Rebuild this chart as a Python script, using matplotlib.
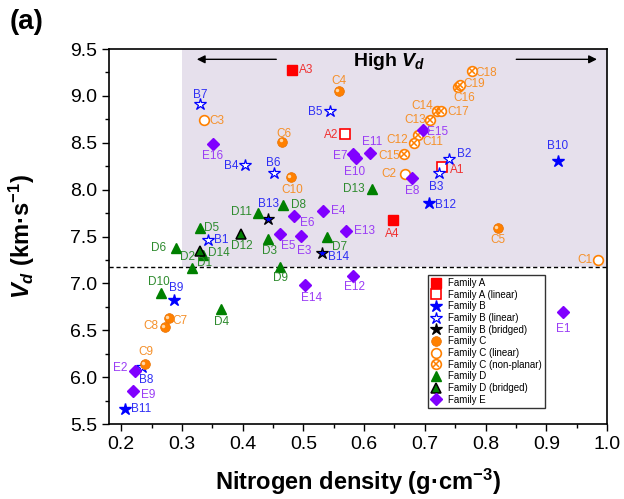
import numpy as np
import matplotlib
matplotlib.use('Agg')
import matplotlib.pyplot as plt
from matplotlib.lines import Line2D
from matplotlib.legend_handler import HandlerTuple
from matplotlib.transforms import ScaledTranslation

plt.rcParams['font.family'] = ['Liberation Sans', 'DejaVu Sans']
plt.rcParams['mathtext.fontset'] = 'custom'
plt.rcParams['mathtext.rm'] = 'Liberation Sans'
plt.rcParams['mathtext.it'] = 'Liberation Sans:italic'
plt.rcParams['mathtext.bf'] = 'Liberation Sans:bold'
plt.rcParams['mathtext.bfit'] = 'Liberation Sans:bold:italic'

# data: names, nitrogen density, Vd
a_names = ['A3', 'A4']
a_x = [0.482, 0.647]
a_y = [9.28, 7.68]

alin_names = ['A1', 'A2']
alin_x = [0.728, 0.568]
alin_y = [8.24, 8.59]

b_names = ['B9', 'B10', 'B11', 'B12']
b_x = [0.287, 0.919, 0.206, 0.707]
b_y = [6.82, 8.31, 5.66, 7.86]

blin_names = ['B1', 'B2', 'B3', 'B4', 'B5', 'B6', 'B7', 'B8']
blin_x = [0.343, 0.740, 0.723, 0.404, 0.544, 0.451, 0.330, 0.235]
blin_y = [7.46, 8.33, 8.18, 8.26, 8.84, 8.18, 8.91, 6.11]

bbr_names = ['B13', 'B14']
bbr_x = [0.442, 0.531]
bbr_y = [7.69, 7.32]

c_names = ['C4', 'C5', 'C6', 'C7', 'C8', 'C9', 'C10']
c_x = [0.558, 0.820, 0.465, 0.278, 0.272, 0.239, 0.479]
c_y = [9.05, 7.59, 8.51, 6.63, 6.53, 6.14, 8.13]

clin_names = ['C1', 'C2', 'C3']
clin_x = [0.985, 0.667, 0.336]
clin_y = [7.25, 8.17, 8.74]

cnp_names = ['C11', 'C12', 'C13', 'C14', 'C15', 'C16', 'C17', 'C18', 'C19']
cnp_x = [0.688, 0.682, 0.709, 0.720, 0.666, 0.755, 0.726, 0.777, 0.758]
cnp_y = [8.58, 8.50, 8.74, 8.84, 8.38, 9.10, 8.84, 9.27, 9.12]

d_names = ['D1', 'D2', 'D3', 'D4', 'D5', 'D6', 'D7', 'D8', 'D9', 'D10', 'D11', 'D13']
d_x = [0.335, 0.316, 0.441, 0.365, 0.329, 0.291, 0.539, 0.467, 0.462, 0.265, 0.425, 0.613]
d_y = [7.30, 7.16, 7.47, 6.73, 7.59, 7.38, 7.50, 7.84, 7.18, 6.90, 7.75, 8.01]

dbr_names = ['D12', 'D14']
dbr_x = [0.398, 0.330]
dbr_y = [7.53, 7.35]

e_names = ['E1', 'E2', 'E3', 'E4', 'E5', 'E6', 'E7', 'E8', 'E9', 'E10',
           'E11', 'E12', 'E13', 'E14', 'E15', 'E16']
e_x = [0.928, 0.222, 0.496, 0.533, 0.462, 0.485, 0.582, 0.679, 0.219, 0.587,
       0.610, 0.581, 0.571, 0.502, 0.697, 0.351]
e_y = [6.69, 6.07, 7.51, 7.77, 7.53, 7.72, 8.38, 8.12, 5.85, 8.34,
       8.39, 7.08, 7.56, 6.98, 8.64, 8.49]

vd_cut = 7.17

# label offsets in pixels (dx, dy)
offs = {
    'A1': (15, -3), 'A2': (-14, -1), 'A3': (14, 0), 'A4': (0, -14),
    'B1': (13, 0), 'B2': (15, 5), 'B3': (-3, -14), 'B4': (-14, -1), 'B5': (-15, -1),
    'B6': (0, 10), 'B7': (0, 9), 'B8': (4, -13), 'B9': (2, 12), 'B10': (0, 15),
    'B11': (16, 0), 'B12': (16, -2), 'B13': (0, 15), 'B14': (16, -4),
    'C1': (-13, 0), 'C2': (-16, 0), 'C3': (13, -1), 'C4': (0, 10), 'C5': (0, -12),
    'C6': (2, 8), 'C7': (11, -3), 'C8': (-14, 1), 'C9': (1, 12), 'C10': (2, -13),
    'C11': (15, -7), 'C12': (-17, 3), 'C13': (-15, 0), 'C14': (-15, 5), 'C15': (-15, -2),
    'C16': (6, -11), 'C17': (18, -1), 'C18': (15, -2), 'C19': (14, 1),
    'D1': (1, -8), 'D2': (-4, 11), 'D3': (2, -12), 'D4': (0, -13), 'D5': (12, 0),
    'D6': (-18, 0), 'D7': (13, -10), 'D8': (15, 0), 'D9': (0, -11), 'D10': (-2, 11),
    'D11': (-16, 1), 'D12': (0, -12), 'D13': (-18, 0), 'D14': (19, -2),
    'E1': (0, -17), 'E2': (-14, 3), 'E3': (3, -15), 'E4': (15, 0), 'E5': (8, -12),
    'E6': (13, -7), 'E7': (-13, -2), 'E8': (0, -13), 'E9': (15, -4), 'E10': (-2, -14),
    'E11': (2, 11), 'E12': (2, -11), 'E13': (18, 0), 'E14': (7, -13), 'E15': (15, -2),
    'E16': (0, -12),
}

red = '#FF0000'
blue = '#0000FF'
orange = '#FF8000'
green = '#008000'
purple = '#8000FF'
lab_col = {'A': '#F03030', 'B': '#2E2EF5', 'C': '#F5902A', 'D': '#2E8B2E', 'E': '#9A3CF5'}

# marker styles
st_a = dict(marker='s', ms=6.5, mfc=red, mec=red)
st_alin = dict(marker='s', ms=6.5, mfc='white', mec=red, mew=1.2)
st_b = dict(marker='*', ms=9, mfc=blue, mec=blue)
st_blin = dict(marker='*', ms=9, mfc='white', mec=blue, mew=0.9)
st_bbr = dict(marker='*', ms=9, mfc=blue, mec='k', mew=0.9)
st_c = dict(marker='o', ms=7, mfc=orange, mec='#E87000', mew=0.5)
st_clin = dict(marker='o', ms=7, mfc='white', mec=orange, mew=1.2)
st_cx = dict(marker='x', ms=4.5, mec=orange, mew=1.1)
st_d = dict(marker='^', ms=7.5, mfc=green, mec=green)
st_dbr = dict(marker='^', ms=7.5, mfc=green, mec='k', mew=1.1)
st_e = dict(marker='D', ms=6.5, mfc=purple, mec=purple)

fig = plt.figure(figsize=(6.24, 4.99), dpi=100)
ax = fig.add_axes([0.1747, 0.1503, 0.7981, 0.7515])

ax.fill_between([0.3, 1.0], vd_cut, 9.5, color='#E6E0EC', lw=0, zorder=0)
ax.axhline(vd_cut, color='k', lw=1, ls=(0, (3, 2)), zorder=1)

ax.plot(a_x, a_y, ls='none', zorder=3, **st_a)
ax.plot(alin_x, alin_y, ls='none', zorder=3, **st_alin)
ax.plot(b_x, b_y, ls='none', zorder=3, **st_b)
ax.plot(blin_x, blin_y, ls='none', zorder=3, **st_blin)
ax.plot(bbr_x, bbr_y, ls='none', zorder=3, **st_bbr)
ax.plot(c_x, c_y, ls='none', zorder=3, **st_c)
hl = ax.transData + ScaledTranslation(-1.0 / 72, 1.0 / 72, fig.dpi_scale_trans)
ax.plot(c_x, c_y, 'o', ms=2.5, mfc='#FFD8A8', mec='none', ls='none', zorder=3.1, transform=hl)
ax.plot(clin_x, clin_y, ls='none', zorder=3, **st_clin)
ax.plot(cnp_x, cnp_y, ls='none', zorder=3, **st_clin)
ax.plot(cnp_x, cnp_y, ls='none', zorder=3, **st_cx)
ax.plot(d_x, d_y, ls='none', zorder=3, **st_d)
ax.plot(dbr_x, dbr_y, ls='none', zorder=3, **st_dbr)
ax.plot(e_x, e_y, ls='none', zorder=3, **st_e)

groups = [(a_names, a_x, a_y), (alin_names, alin_x, alin_y), (b_names, b_x, b_y),
          (blin_names, blin_x, blin_y), (bbr_names, bbr_x, bbr_y), (c_names, c_x, c_y),
          (clin_names, clin_x, clin_y), (cnp_names, cnp_x, cnp_y), (d_names, d_x, d_y),
          (dbr_names, dbr_x, dbr_y), (e_names, e_x, e_y)]
for names, xs, ys in groups:
    for n, xv, yv in zip(names, xs, ys):
        ax.annotate(n, (xv, yv), xytext=offs[n], textcoords='offset pixels',
                    ha='center', va='center', fontsize=8.5, color=lab_col[n[0]], zorder=4)

# High Vd arrows
ax.text(0.642, 9.37, r'High $\mathbfit{V_d}$', fontsize=14, fontweight='bold',
        ha='center', va='center')
ax.annotate('', xy=(0.32, 9.39), xytext=(0.46, 9.39),
            arrowprops=dict(arrowstyle='-|>', color='k', lw=1, mutation_scale=12))
ax.annotate('', xy=(0.988, 9.39), xytext=(0.846, 9.39),
            arrowprops=dict(arrowstyle='-|>', color='k', lw=1, mutation_scale=12))

ax.set_xlim(0.18, 1.0)
ax.set_ylim(5.5, 9.5)
ax.set_xticks(np.arange(0.2, 1.01, 0.1))
ax.set_xticks(np.arange(0.2, 1.0, 0.05), minor=True)
ax.set_yticks(np.arange(5.5, 9.51, 0.5))
ax.set_yticks(np.arange(5.5, 9.5, 0.25), minor=True)
ax.xaxis.set_major_formatter(matplotlib.ticker.FormatStrFormatter('%.1f'))
ax.yaxis.set_major_formatter(matplotlib.ticker.FormatStrFormatter('%.1f'))
ax.tick_params(which='both', direction='out', top=False, right=False, labelsize=14, width=1)
ax.tick_params(which='major', length=5)
ax.tick_params(which='minor', length=3)
for s in ax.spines.values():
    s.set_linewidth(1.2)

ax.set_xlabel(r'Nitrogen density (g·cm$^{\mathbf{-3}}$)', fontsize=17, fontweight='bold',
              labelpad=10)
ax.set_ylabel(r'$\mathbfit{V_d}$ (km·s$^{\mathbf{-1}}$)', fontsize=17, fontweight='bold')
ax.yaxis.set_label_coords(-0.145, 0.5)
fig.text(0.015, 1 - 22 / 499, '(a)', fontsize=20, fontweight='bold', va='center', ha='left')

handles = [
    Line2D([], [], ls='none', **st_a),
    Line2D([], [], ls='none', **st_alin),
    Line2D([], [], ls='none', **st_b),
    Line2D([], [], ls='none', **st_blin),
    Line2D([], [], ls='none', **dict(st_bbr, mfc='k')),
    Line2D([], [], ls='none', **st_c),
    Line2D([], [], ls='none', **st_clin),
    (Line2D([], [], ls='none', **st_clin), Line2D([], [], ls='none', **st_cx)),
    Line2D([], [], ls='none', **st_d),
    Line2D([], [], ls='none', **st_dbr),
    Line2D([], [], ls='none', **st_e),
]
labels = ['Family A', 'Family A (linear)', 'Family B', 'Family B (linear)',
          'Family B (bridged)', 'Family C', 'Family C (linear)', 'Family C (non-planar)',
          'Family D', 'Family D (bridged)', 'Family E']
leg = ax.legend(handles, labels, loc='lower left', bbox_to_anchor=(0.630, 0.031),
                fontsize=7, frameon=True, fancybox=False, edgecolor='k',
                labelspacing=0.17, handlelength=1.2, handletextpad=0.6, borderpad=0.3,
                handler_map={tuple: HandlerTuple(ndivide=1)})
leg.get_frame().set_linewidth(1.0)

fig.savefig('out.png', dpi=100)
